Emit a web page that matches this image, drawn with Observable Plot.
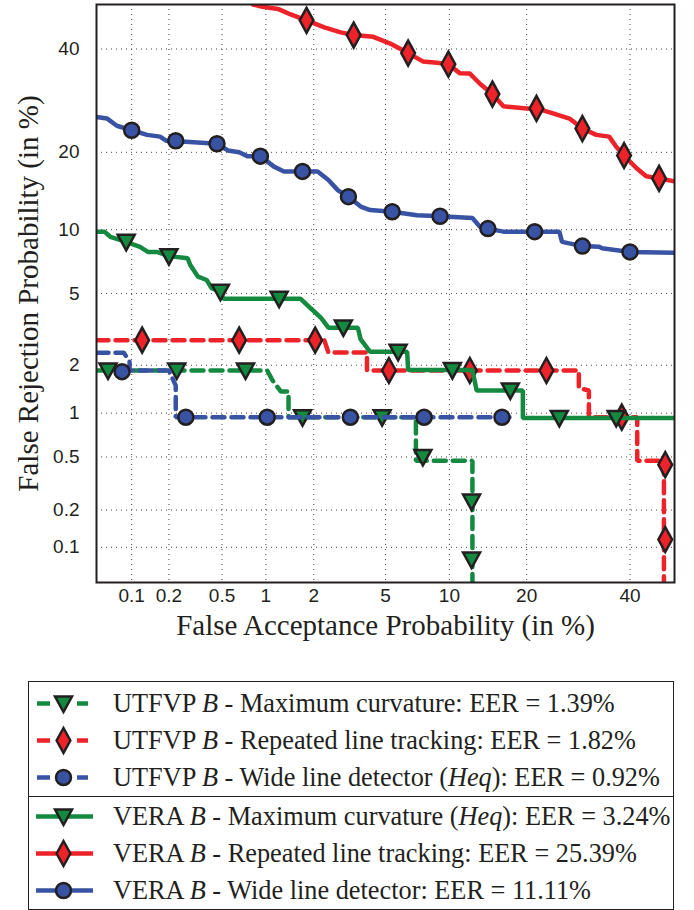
<!DOCTYPE html>
<html><head><meta charset="utf-8">
<script src="https://cdn.jsdelivr.net/npm/d3@7"></script>
<script src="https://cdn.jsdelivr.net/npm/@observablehq/plot@0.6"></script>
<style>
body{margin:0;background:#fff;}
#wrap{position:relative;width:694px;height:910px;}
#legend{position:absolute;left:28px;top:681px;width:644px;border:1.5px solid #231f20;font-family:"Liberation Serif","Times New Roman",serif;font-size:26.3px;color:#231f20;}
.sec1{padding-top:3px;border-bottom:1.5px solid #231f20;}
.sec2{padding-top:1px;}
.row{height:37px;display:flex;align-items:center;white-space:nowrap;}
.row svg{flex:none;}
</style></head>
<body><div id="wrap"><div id="chart"></div><div id="legend"></div></div>
<script>
// ---------- data (percent) ----------
const xTicks = [0.1, 0.2, 0.5, 1, 2, 5, 10, 20, 40];
const yTicks = [0.1, 0.2, 0.5, 1, 2, 5, 10, 20, 40];

const seriesNames = [
  "UTFVP <i>B</i> - Maximum curvature: EER = 1.39%",
  "UTFVP <i>B</i> - Repeated line tracking: EER = 1.82%",
  "UTFVP <i>B</i> - Wide line detector (<i>Heq</i>): EER = 0.92%",
  "VERA <i>B</i> - Maximum curvature (<i>Heq</i>): EER = 3.24%",
  "VERA <i>B</i> - Repeated line tracking: EER = 25.39%",
  "VERA <i>B</i> - Wide line detector: EER = 11.11%"
];

const utfvpMCLine = [[0.05,1.86],[1.02,1.86],[1.1,1.63],[1.25,1.38],[1.4,1.38],[1.4,0.94],[7.05,0.94],[7.05,0.47],[12.5,0.47],[12.5,0.02]];
const utfvpMCMarks = [[0.063,1.86],[0.23,1.86],[0.73,1.86],[1.71,0.94],[4.8,0.94],[7.6,0.5],[12.4,0.233],[12.4,0.079]];

const utfvpRLTLine = [[0.05,2.8],[2.31,2.8],[2.44,2.38],[4.0,2.38],[4.0,1.86],[29.3,1.86],[29.3,1.45],[31.3,1.4],[31.3,0.94],[41.6,0.94],[41.6,0.47],[47.6,0.47],[47.6,0.02]];
const utfvpRLTMarks = [[0.122,2.8],[0.66,2.8],[2.04,2.8],[5.2,1.86],[12.2,1.86],[23.3,1.86],[38.2,0.94],[47.9,0.44],[47.9,0.116]];

const utfvpWLDLine = [[0.05,2.37],[0.086,2.37],[0.096,2.1],[0.096,1.86],[0.2,1.86],[0.226,1.5],[0.226,0.94],[17.9,0.94]];
const utfvpWLDMarks = [[0.083,1.83],[0.27,0.94],[1.02,0.94],[3.25,0.94],[7.7,0.94],[16.3,0.94]];

const veraMCLine = [[0.05,9.78],[0.059,9.78],[0.066,9.3],[0.09,8.83],[0.117,8.39],[0.136,7.95],[0.161,7.95],[0.2,7.6],[0.279,7.42],[0.292,6.9],[0.334,6.06],[0.387,5.84],[0.42,5.32],[0.487,5.1],[0.51,4.7],[1.66,4.7],[1.91,4.2],[2.21,3.72],[2.44,3.29],[3.57,3.29],[3.7,2.83],[4.16,2.4],[6.4,2.4],[6.47,1.87],[12.5,1.87],[13.0,1.4],[19.4,1.4],[19.4,0.93],[50,0.93]];
const veraMCMarks = [[0.09,8.83],[0.2,7.6],[0.487,5.1],[1.22,4.7],[2.97,3.3],[5.78,2.4],[10.3,1.87],[17.5,1.4],[25.6,0.93],[37,0.93]];

const veraRLTLine = [[0.82,50],[0.95,49.5],[1.2,49],[1.43,47.8],[1.81,46.4],[2.31,44.8],[2.87,43.7],[3.39,43.1],[4.32,42.7],[5.28,41.2],[6.47,39.1],[7.6,37.3],[8.82,37.0],[9.9,36.7],[11.1,34.75],[12.2,34.7],[13.4,32.6],[15,30.5],[16.5,28.1],[20,27.7],[21.6,27.7],[24.3,26.8],[27.5,25.8],[30,24],[32.8,22.9],[35.5,22.6],[37,20.9],[38.7,19.5],[41.4,17.6],[43.6,16.4],[46.5,16.1],[50,15.7]];
const veraRLTMarks = [[1.81,46.4],[3.39,43.1],[6.47,39.1],[9.9,36.7],[15,30.5],[21.6,27.7],[30,24],[38.7,19.5],[46.5,16.1]];

const veraWLDLine = [[0.05,26.1],[0.062,25.8],[0.075,24.5],[0.10,23.7],[0.134,22.9],[0.17,22.6],[0.19,21.9],[0.29,21.7],[0.46,21.4],[0.55,20.3],[0.66,20.0],[0.75,19.4],[0.92,19.4],[1.13,17.8],[1.31,17.1],[2.11,17.1],[2.44,15.9],[2.77,14.5],[3.17,13.7],[3.7,12.5],[4.16,12.1],[5.4,11.9],[7.13,11.5],[9.1,11.4],[12.5,11.2],[13.4,10.3],[14.4,10.1],[16.5,9.8],[25.6,9.8],[26.1,8.83],[30,8.45],[33.4,8.4],[34,8.27],[40,7.95],[50,7.87]];
const veraWLDMarks = [[0.10,23.7],[0.226,21.9],[0.46,21.4],[0.92,19.4],[1.71,17.1],[3.17,13.7],[5.4,11.9],[9.1,11.4],[14.4,10.1],[21.3,9.8],[30,8.45],[40,7.95]];

// ---------- helpers ----------
function probit(p){
  const a=[-3.969683028665376e+01,2.209460984245205e+02,-2.759285104469687e+02,1.383577518672690e+02,-3.066479806614716e+01,2.506628277459239e+00];
  const b=[-5.447609879822406e+01,1.615858368580409e+02,-1.556989798598866e+02,6.680131188771972e+01,-1.328068155288572e+01];
  const c=[-7.784894002430293e-03,-3.223964580411365e-01,-2.400758277161838e+00,-2.549732539343734e+00,4.374664141464968e+00,2.938163982698783e+00];
  const d=[7.784695709041462e-03,3.224671290700398e-01,2.445134137142996e+00,3.754408661907416e+00];
  const pl=0.02425, ph=1-pl;
  let q,r;
  if(p<pl){q=Math.sqrt(-2*Math.log(p));return (((((c[0]*q+c[1])*q+c[2])*q+c[3])*q+c[4])*q+c[5])/((((d[0]*q+d[1])*q+d[2])*q+d[3])*q+1);}
  if(p<=ph){q=p-0.5;r=q*q;return (((((a[0]*r+a[1])*r+a[2])*r+a[3])*r+a[4])*r+a[5])*q/(((((b[0]*r+b[1])*r+b[2])*r+b[3])*r+b[4])*r+1);}
  q=Math.sqrt(-2*Math.log(1-p));return -(((((c[0]*q+c[1])*q+c[2])*q+c[3])*q+c[4])*q+c[5])/((((d[0]*q+d[1])*q+d[2])*q+d[3])*q+1);
}
const P = v => probit(v/100);

const GREEN="#138a3f", RED="#ee2229", BLUE="#3953a4", INK="#231f20";

const triDown = {draw(ctx,size){const r=Math.sqrt(size/Math.PI);ctx.moveTo(-0.85*r,-0.7*r);ctx.lineTo(0.85*r,-0.7*r);ctx.lineTo(0,0.85*r);ctx.closePath();}};
const diamondTall = {draw(ctx,size){const r=Math.sqrt(size/Math.PI);ctx.moveTo(0,-r);ctx.lineTo(0.55*r,0);ctx.lineTo(0,r);ctx.lineTo(-0.55*r,0);ctx.closePath();}};

const series = [
  {line:utfvpMCLine, marks:utfvpMCMarks, color:GREEN, dash:"12,7", symbol:triDown, r:10},
  {line:utfvpRLTLine, marks:utfvpRLTMarks, color:RED, dash:"12,7", symbol:diamondTall, r:12.5},
  {line:utfvpWLDLine, marks:utfvpWLDMarks, color:BLUE, dash:"12,7", symbol:"circle", r:7.5},
  {line:veraMCLine, marks:veraMCMarks, color:GREEN, dash:null, symbol:triDown, r:10},
  {line:veraRLTLine, marks:veraRLTMarks, color:RED, dash:null, symbol:diamondTall, r:12.5},
  {line:veraWLDLine, marks:veraWLDMarks, color:BLUE, dash:null, symbol:"circle", r:7.5}
];

const SANS = "Liberation Sans, Arial, Helvetica, sans-serif";
const SERIF = "Liberation Serif, Times New Roman, serif";

const marks = [
  Plot.ruleX(xTicks, {x: d=>P(d), stroke:"#444", strokeWidth:1, strokeDasharray:"1,4"}),
  Plot.ruleY(yTicks, {y: d=>P(d), stroke:"#444", strokeWidth:1, strokeDasharray:"1,4"})
];
for (const s of series){
  marks.push(Plot.line(s.line, {x:d=>P(d[0]), y:d=>P(d[1]), stroke:s.color, strokeWidth:4.5, strokeDasharray:s.dash, strokeLinejoin:"miter", clip:true}));
  marks.push(Plot.dot(s.marks, {x:d=>P(d[0]), y:d=>P(d[1]), r:s.r, symbol:s.symbol, fill:s.color, stroke:INK, strokeWidth:2.5, clip:true}));
}
marks.push(
  Plot.frame({stroke:INK, strokeWidth:2}),
  Plot.text(xTicks, {x:d=>P(d), frameAnchor:"bottom", dy:19, text:d=>String(d), fontSize:19, fontFamily:SANS, fill:INK}),
  Plot.text(yTicks, {y:d=>P(d), frameAnchor:"left", dx:-17, textAnchor:"end", text:d=>String(d), fontSize:19, fontFamily:SANS, fill:INK}),
  Plot.text(["False Acceptance Probability (in %)"], {frameAnchor:"bottom", dy:43, textAnchor:"middle", lineAnchor:"middle", text:d=>d, fontSize:29, fontFamily:SERIF, fill:INK}),
  Plot.text(["False Rejection Probability (in %)"], {frameAnchor:"left", dx:-68, textAnchor:"middle", lineAnchor:"middle", rotate:-90, text:d=>d, fontSize:29, fontFamily:SERIF, fill:INK})
);

const chart = Plot.plot({
  width:694, height:668,
  marginLeft:96, marginRight:20, marginTop:4, marginBottom:86,
  x:{type:"linear", domain:[P(0.05), P(50)], axis:null},
  y:{type:"linear", domain:[P(0.05), P(50)], axis:null},
  style:{background:"white", overflow:"visible"},
  marks
});
document.getElementById("chart").appendChild(chart);

// ---------- legend ----------
const leg = document.getElementById("legend");
const sw = (s) => {
  const ns="http://www.w3.org/2000/svg";
  const svg=document.createElementNS(ns,"svg");
  svg.setAttribute("width",84);svg.setAttribute("height",37);
  const addLine=(x1,x2)=>{const l=document.createElementNS(ns,"line");l.setAttribute("x1",x1);l.setAttribute("x2",x2);l.setAttribute("y1",18.5);l.setAttribute("y2",18.5);l.setAttribute("stroke",s.color);l.setAttribute("stroke-width",4.5);svg.appendChild(l);};
  if(s.dash){addLine(8,21);addLine(48,59);} else addLine(7,64);
  const p=document.createElementNS(ns,"path");
  const path=d3.path();
  if(s.symbol==="circle"){path.arc(0,0,s.r,0,2*Math.PI);} else s.symbol.draw(path, s.r*s.r*Math.PI);
  p.setAttribute("d",path.toString());
  p.setAttribute("transform",`translate(34.5,18.5)`);
  p.setAttribute("fill",s.color);p.setAttribute("stroke",INK);p.setAttribute("stroke-width",2.5);
  svg.appendChild(p);
  return svg;
};
[[0,1,2,"sec1"],[3,4,5,"sec2"]].forEach(g=>{
  const sec=document.createElement("div");sec.className=g[3];
  g.slice(0,3).forEach(i=>{
    const row=document.createElement("div");row.className="row";
    row.appendChild(sw(series[i]));
    const t=document.createElement("span");t.innerHTML=seriesNames[i];
    row.appendChild(t);sec.appendChild(row);
  });
  leg.appendChild(sec);
});
</script>
</body></html>
